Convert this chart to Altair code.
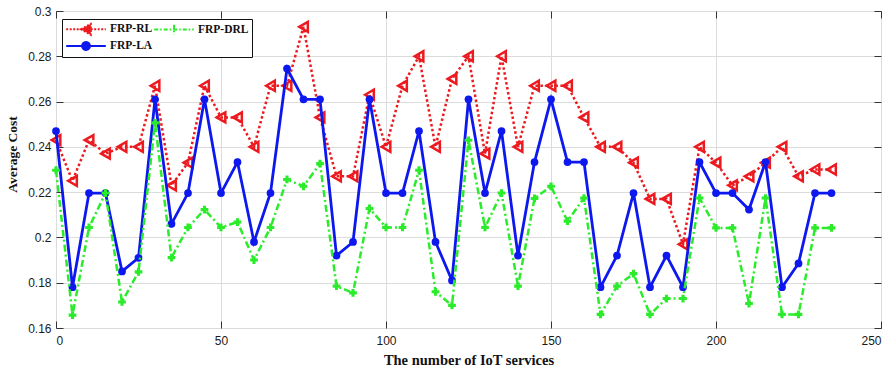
import altair as alt
import pandas as pd

# ---------------- data ----------------
services = [0, 5, 10, 15, 20, 25, 30, 35, 40, 45, 50, 55, 60, 65, 70, 75,
            80, 85, 90, 95, 100, 105, 110, 115, 120, 125, 130, 135, 140, 145, 150, 155,
            160, 165, 170, 175, 180, 185, 190, 195, 200, 205, 210, 215, 220, 225, 230, 235]

frp_rl = [0.243, 0.225, 0.243, 0.237, 0.240, 0.240, 0.267, 0.223, 0.233, 0.267, 0.253, 0.253,
          0.240, 0.267, 0.267, 0.293, 0.253, 0.227, 0.227, 0.263, 0.240, 0.267, 0.280, 0.240,
          0.270, 0.280, 0.237, 0.280, 0.240, 0.267, 0.267, 0.267, 0.253, 0.240, 0.240, 0.233,
          0.217, 0.217, 0.197, 0.240, 0.233, 0.223, 0.227, 0.233, 0.240, 0.227, 0.230, 0.230]

frp_la = [0.247, 0.178, 0.2196, 0.2196, 0.185, 0.191, 0.261, 0.206, 0.2196, 0.261, 0.2196, 0.2333,
          0.198, 0.2196, 0.2746, 0.261, 0.261, 0.192, 0.198, 0.261, 0.2196, 0.2196, 0.247, 0.198,
          0.181, 0.261, 0.2196, 0.247, 0.192, 0.2333, 0.261, 0.2333, 0.2333, 0.178, 0.192, 0.2196,
          0.178, 0.192, 0.178, 0.2333, 0.2196, 0.2196, 0.2123, 0.2333, 0.178, 0.1885, 0.2196, 0.2196]

frp_drl = [0.2297, 0.1657, 0.2044, 0.2196, 0.1715, 0.1848, 0.2506, 0.1911, 0.2044, 0.2123, 0.2044, 0.2068,
           0.190, 0.2044, 0.2256, 0.2226, 0.2326, 0.1785, 0.1755, 0.2128, 0.2044, 0.2044, 0.2297, 0.176,
           0.170, 0.2429, 0.2044, 0.2196, 0.1785, 0.2172, 0.2226, 0.2072, 0.2174, 0.166, 0.1785, 0.184,
           0.166, 0.173, 0.173, 0.2174, 0.2042, 0.2042, 0.1708, 0.2174, 0.166, 0.166, 0.2042, 0.2042]

series_names = ["FRP-RL", "FRP-DRL", "FRP-LA"]
series_values = [frp_rl, frp_drl, frp_la]
x_ticks = [0, 50, 100, 150, 200, 250]
y_ticks = [0.16, 0.18, 0.20, 0.22, 0.24, 0.26, 0.28, 0.30]

# ---------------- styles ----------------
RED = "#ec1a1f"
GREEN = "#2bec2b"
BLUE = "#0c18ee"
series_colors = [RED, GREEN, BLUE]
legend_dash = [[2, 1.5], [4, 2, 1.5, 2], [1, 0]]
legend_paths = [
    "M-3.3,0H3.3M-0.85,0L0.8,-0.9L0.8,0.9Z",
    "M-3.3,0H3.3M0,-0.8V0.8",
    "M-3.3,0H3.3M-0.65,0A0.65,0.65,0,1,1,0.65,0A0.65,0.65,0,1,1,-0.65,0Z",
]

rows = []
for name, vals in zip(series_names, series_values):
    for s, v in zip(services, vals):
        rows.append({"services": s, "cost": v, "series": name})
df = pd.DataFrame(rows)

x_scale = alt.Scale(domain=[0, 250], nice=False, zero=False)
y_scale = alt.Scale(domain=[0.16, 0.30], nice=False, zero=False)

x_axis = alt.Axis(
    title="The number of IoT services", values=x_ticks, format="d",
    grid=True, gridColor="#dcdcdc", gridWidth=1, domain=False, tickSize=0,
    labelFont="Liberation Sans", labelFontSize=12, labelColor="#1a1a1a", labelPadding=7,
    titleFont="Liberation Serif", titleFontSize=14.5, titleFontWeight="bold", titleColor="#111",
    titleY=32, titleBaseline="middle",
)
y_axis = alt.Axis(
    title="Average Cost", values=y_ticks, format=".2~f",
    grid=True, gridColor="#dcdcdc", gridWidth=1, domain=False, tickSize=0,
    labelFont="Liberation Sans", labelFontSize=12, labelColor="#1a1a1a", labelPadding=5,
    titleFont="Liberation Serif", titleFontSize=13.5, titleFontWeight="bold", titleColor="#111",
    titleX=-44, titleY=143, titleAngle=270, titleAlign="center", titleBaseline="middle",
)

base = alt.Chart(df).encode(
    x=alt.X("services:Q", scale=x_scale, axis=x_axis),
    y=alt.Y("cost:Q", scale=y_scale, axis=y_axis),
)

layers = []
# draw order: RL, LA, DRL
sel = base.transform_filter(alt.datum.series == "FRP-RL")
layers.append(sel.mark_line(color=RED, strokeWidth=2.5, strokeDash=[2.5, 2.5]))
layers.append(sel.mark_point(shape="triangle-left", filled=False, color=RED,
                             strokeWidth=2.5, size=100, opacity=1))
sel = base.transform_filter(alt.datum.series == "FRP-LA")
layers.append(sel.mark_line(color=BLUE, strokeWidth=2.8))
layers.append(sel.mark_point(shape="circle", filled=True, color=BLUE, size=60, opacity=1))
sel = base.transform_filter(alt.datum.series == "FRP-DRL")
layers.append(sel.mark_line(color=GREEN, strokeWidth=2.5, strokeDash=[7, 3, 2, 3]))
layers.append(sel.mark_point(shape="cross", filled=True, color=GREEN, size=60, opacity=1))

inner = alt.layer(*layers)

legend = alt.Legend(
    title=None, orient="none", legendX=6, legendY=8, columns=2, direction="horizontal",
    columnPadding=-8, rowPadding=-4, padding=3,
    strokeColor="#111", fillColor="white", cornerRadius=0,
    labelFont="Liberation Serif", labelFontSize=11.5, labelFontWeight="bold", labelColor="#111",
    symbolSize=144, symbolStrokeWidth=2, symbolOffset=14, labelOffset=17, symbolOpacity=1,
)

frame_tr = alt.Chart(df).transform_filter(alt.datum.series == "none").mark_point(
    filled=True, size=144, strokeWidth=2, opacity=1
).encode(
    x=alt.X("services:Q", scale=x_scale,
            axis=alt.Axis(orient="top", values=x_ticks, labels=False, title=None, grid=False,
                          domain=False, tickSize=7, offset=-7, tickColor="#333")),
    y=alt.Y("cost:Q", scale=y_scale,
            axis=alt.Axis(orient="right", values=y_ticks, labels=False, title=None, grid=False,
                          domain=False, tickSize=7, offset=-7, tickColor="#333")),
    fill=alt.Fill("series:N", scale=alt.Scale(domain=series_names, range=series_colors), legend=legend),
    stroke=alt.Stroke("series:N", scale=alt.Scale(domain=series_names, range=series_colors), legend=legend),
    shape=alt.Shape("series:N", scale=alt.Scale(domain=series_names, range=legend_paths), legend=legend),
    strokeDash=alt.StrokeDash("series:N", scale=alt.Scale(domain=series_names, range=legend_dash), legend=legend),
)

frame_bl = alt.Chart(df).transform_filter(alt.datum.series == "none").mark_point(opacity=1).encode(
    x=alt.X("services:Q", scale=x_scale,
            axis=alt.Axis(orient="bottom", values=x_ticks, labels=False, title=None, grid=False,
                          domain=False, tickSize=7, offset=-7, tickColor="#333")),
    y=alt.Y("cost:Q", scale=y_scale,
            axis=alt.Axis(orient="left", values=y_ticks, labels=False, title=None, grid=False,
                          domain=False, tickSize=7, offset=-7, tickColor="#333")),
)

chart = alt.layer(inner, frame_tr, frame_bl).resolve_axis(
    x="independent", y="independent"
).properties(
    width=825, height=317,
    autosize=alt.AutoSizeParams(type="none"),
    padding={"left": 56, "top": 11, "right": 15, "bottom": 42},
    background="white",
).configure_view(stroke="#333", strokeWidth=1)

chart.save("out.html", embed_options={"renderer": "svg", "actions": False})
